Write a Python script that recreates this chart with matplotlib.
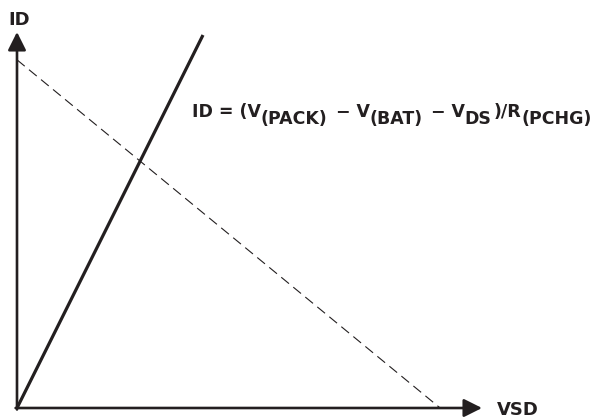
import matplotlib.pyplot as plt

# schematic lines (normalised units, origin at axis crossing)
fet_x = [0.0, 0.40]
fet_y = [0.0, 0.992]
load_x = [0.0, 0.91]
load_y = [0.926, 0.0]

# equation pieces: text, is subscript
eq_parts = [("ID = (V", False), ("(PACK)", True), (" \u2212 V", False), ("(BAT)", True),
            (" \u2212 V", False), ("DS", True), (")/R", False), ("(PCHG)", True)]

INK = '#231f20'
FONT = 'DejaVu Sans'
W, H = 595, 418
fig = plt.figure(figsize=(W / 100, H / 100), dpi=100)
ax = fig.add_axes([17 / W, 10 / H, (482 - 17) / W, (408 - 32) / H])
ax.set_xlim(0, 1)
ax.set_ylim(0, 1)
ax.axis('off')

# FET line and load line
ax.plot(fet_x, fet_y, color=INK, lw=2.3, solid_capstyle='butt', clip_on=False)
ax.plot(load_x, load_y, color=INK, lw=0.8, dashes=(9, 5), clip_on=False)

# axes with arrows
arrow = dict(arrowstyle='-|>,head_length=1.1,head_width=0.55', color=INK,
             lw=1.9, shrinkA=0, shrinkB=0)
ax.annotate('', xy=(1, 0), xytext=(-0.003, 0), arrowprops=arrow, annotation_clip=False)
ax.annotate('', xy=(0, 1), xytext=(0, -0.004), arrowprops=arrow, annotation_clip=False)

# labels
fig.text(8 / W, 1 - 25 / H, 'ID', fontsize=13, fontweight='bold',
         family=FONT, color=INK, va='baseline')
fig.text(497 / W, 1 - 415 / H, 'VSD', fontsize=13, fontweight='bold',
         family=FONT, color=INK, va='baseline')

# equation, laid out piece by piece
renderer = fig.canvas.get_renderer()
x = 192
for s, sub in eq_parts:
    base = 124 if sub else 117
    t = fig.text(x / W, 1 - base / H, s, fontsize=12.5, fontweight='bold',
                 family=FONT, color=INK, va='baseline', ha='left')
    bb = t.get_window_extent(renderer)
    x += bb.width + (2 if sub else 0)

plt.savefig('out.png', dpi=100)
